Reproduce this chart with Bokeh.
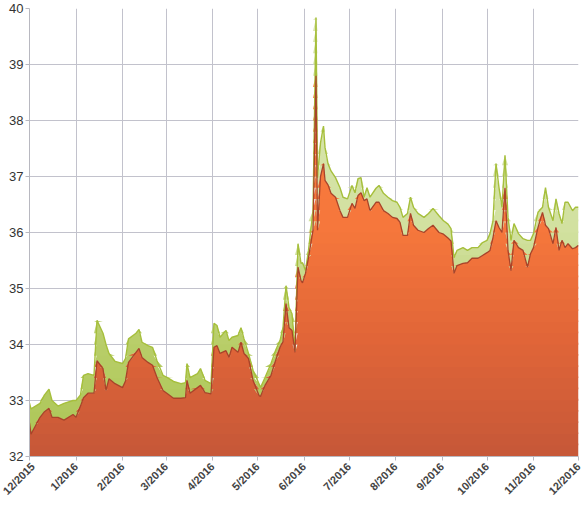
import numpy as np
import pandas as pd
from bokeh.plotting import figure
from bokeh.models import FixedTicker, CustomJSTickFormatter, Range1d
from bokeh.embed import file_html
from bokeh.resources import INLINE

START = "2015-12-01"
MONTH_TICKS = ["2015-12-01", "2016-01-01", "2016-02-01", "2016-03-01", "2016-04-01",
               "2016-05-01", "2016-06-01", "2016-07-01", "2016-08-01", "2016-09-01",
               "2016-10-01", "2016-11-01", "2016-12-01"]
Y_TICKS = [32, 33, 34, 35, 36, 37, 38, 39, 40]

DAYS = [0, 1, 4, 7, 10, 13, 15, 19, 23, 29,
        31, 34, 36, 39, 43, 45, 49, 51, 53, 57,
        62, 64, 66, 71, 73, 75, 79, 82, 85, 89,
        92, 96, 101, 104, 105, 107, 112, 114, 117, 121,
        123, 125, 127, 131, 133, 135, 139, 141, 143, 146,
        149, 153, 154, 157, 161, 164, 167, 169, 171, 173,
        175, 177, 179, 181, 182, 184, 186, 189, 191, 192,
        194, 196, 197, 199, 201, 204, 207, 209, 212, 215,
        217, 219, 221, 223, 225, 227, 231, 233, 236, 239,
        242, 245, 247, 249, 252, 254, 256, 259, 263, 266,
        269, 273, 276, 279, 281, 283, 285, 289, 292, 295,
        299, 302, 305, 307, 309, 311, 313, 315, 317, 319,
        321, 323, 326, 329, 332, 334, 336, 339, 342, 344,
        346, 349, 351, 353, 355, 357, 359, 362, 364, 366]

UPPER = [32.95, 32.85, 32.90, 32.95, 33.10, 33.20, 33.00, 32.90, 32.95, 33.00,
         33.00, 33.10, 33.45, 33.48, 33.45, 34.43, 34.20, 34.00, 33.84, 33.70,
         33.66, 33.75, 34.10, 34.20, 34.27, 34.04, 33.98, 33.95, 33.71, 33.45,
         33.41, 33.34, 33.30, 33.32, 33.66, 33.41, 33.48, 33.57, 33.36, 33.30,
         34.38, 34.34, 34.13, 34.25, 34.07, 34.13, 34.16, 34.30, 34.10, 33.84,
         33.54, 33.30, 33.23, 33.41, 33.66, 33.89, 34.07, 34.30, 35.05, 34.66,
         34.55, 33.89, 35.80, 35.45, 35.46, 35.32, 35.68, 36.39, 39.84, 36.98,
         37.60, 37.90, 37.52, 37.23, 37.10, 36.98, 36.80, 36.63, 36.60, 36.84,
         36.71, 36.96, 36.98, 36.63, 36.80, 36.63, 36.79, 36.84, 36.70, 36.63,
         36.57, 36.54, 36.45, 36.27, 36.34, 36.63, 36.45, 36.34, 36.27, 36.34,
         36.43, 36.30, 36.21, 36.15, 36.07, 35.55, 35.68, 35.73, 35.68, 35.73,
         35.73, 35.82, 35.86, 35.98, 36.21, 37.23, 36.80, 36.45, 37.38, 36.27,
         35.86, 36.16, 35.98, 35.89, 35.86, 35.86, 35.98, 36.36, 36.45, 36.80,
         36.45, 36.21, 36.60, 36.34, 36.16, 36.54, 36.54, 36.39, 36.45, 36.45]

LOWER = [32.60, 32.40, 32.55, 32.70, 32.80, 32.86, 32.70, 32.70, 32.65, 32.75,
         32.70, 32.90, 33.05, 33.13, 33.13, 33.71, 33.57, 33.18, 33.39, 33.30,
         33.23, 33.35, 33.68, 33.86, 33.93, 33.77, 33.68, 33.63, 33.41, 33.18,
         33.12, 33.04, 33.04, 33.05, 33.36, 33.13, 33.23, 33.27, 33.14, 33.12,
         33.95, 33.98, 33.84, 33.89, 33.77, 33.95, 33.86, 34.04, 33.84, 33.75,
         33.36, 33.09, 33.07, 33.27, 33.45, 33.71, 33.95, 34.05, 34.73, 34.30,
         34.25, 33.86, 35.38, 35.14, 35.10, 35.27, 35.55, 36.04, 38.80, 36.04,
         37.00, 37.23, 36.93, 36.85, 36.70, 36.63, 36.39, 36.27, 36.27, 36.52,
         36.43, 36.66, 36.71, 36.57, 36.60, 36.39, 36.54, 36.54, 36.39, 36.34,
         36.27, 36.25, 36.18, 35.95, 35.95, 36.34, 36.13, 36.04, 36.00, 36.07,
         36.13, 36.00, 35.97, 35.90, 35.85, 35.27, 35.41, 35.45, 35.46, 35.54,
         35.54, 35.59, 35.64, 35.68, 35.91, 36.21, 36.09, 36.00, 36.80, 35.68,
         35.32, 35.86, 35.73, 35.68, 35.38, 35.62, 35.73, 36.09, 36.36, 36.13,
         36.07, 35.80, 36.09, 35.68, 35.86, 35.73, 35.80, 35.71, 35.73, 35.77]

dates = pd.Timestamp(START) + pd.to_timedelta(DAYS, unit="D")
upper = np.array(UPPER)
lower = np.array(LOWER)

p = figure(x_axis_type="datetime", frame_width=549, frame_height=448,
           x_range=Range1d(pd.Timestamp(MONTH_TICKS[0]), pd.Timestamp(MONTH_TICKS[-1])),
           y_range=Range1d(Y_TICKS[0], Y_TICKS[-1]),
           output_backend="svg", toolbar_location=None,
           min_border_top=8, min_border_left=29, min_border_right=8, min_border_bottom=2)
p.outline_line_color = None
p.background_fill_color = "white"
p.border_fill_color = "white"


def lerp_color(stops, v):
    vals = [s[0] for s in stops]
    cols = np.array([s[1] for s in stops], dtype=float)
    r = np.interp(v, vals, cols[:, 0])
    g = np.interp(v, vals, cols[:, 1])
    b = np.interp(v, vals, cols[:, 2])
    return "#%02x%02x%02x" % (int(r), int(g), int(b))


orange_stops = [(32, (198, 88, 56)), (34, (224, 101, 56)), (36, (246, 119, 60)), (40, (252, 128, 64))]
green_stops = [(32, (172, 198, 86)), (34, (184, 206, 104)), (36, (210, 225, 160)), (40, (220, 232, 180))]

edges = np.arange(32.0, 40.01, 0.2)
eps = 0.03
for k in range(len(edges) - 1):
    lo, hi = edges[k], edges[k + 1]
    mid = (lo + hi) / 2
    y1 = np.clip(lower, lo, hi + eps)
    y2 = np.clip(upper, lo, hi + eps)
    if np.any(y2 > y1):
        p.varea(x=dates, y1=y1, y2=y2, fill_color=lerp_color(green_stops, mid), fill_alpha=1.0)
for k in range(len(edges) - 1):
    lo, hi = edges[k], edges[k + 1]
    mid = (lo + hi) / 2
    y2 = np.clip(lower, lo, hi + eps)
    if np.any(y2 > lo):
        p.varea(x=dates, y1=np.full(len(dates), lo), y2=y2,
                fill_color=lerp_color(orange_stops, mid), fill_alpha=1.0)

p.line(dates, upper, line_color="#a6bf3c", line_width=1.4)
p.line(dates, lower, line_color="#a8442a", line_width=1.3)

xt = FixedTicker(ticks=[pd.Timestamp(m).value / 1e6 for m in MONTH_TICKS])
p.xaxis.ticker = xt
p.xgrid.ticker = xt
p.xaxis.formatter = CustomJSTickFormatter(
    code="const d = new Date(tick); return (d.getUTCMonth() + 1) + '/' + d.getUTCFullYear();")
p.yaxis.ticker = FixedTicker(ticks=Y_TICKS)
p.ygrid.ticker = FixedTicker(ticks=Y_TICKS)

for g in (p.xgrid, p.ygrid):
    g.grid_line_color = "#c2c2cc"
    g.grid_line_width = 1

for ax in (p.xaxis, p.yaxis):
    ax.axis_line_color = "#b8b8c0"
    ax.major_tick_line_color = "#b8b8c0"
    ax.major_tick_out = 4
    ax.major_tick_in = 0
    ax.minor_tick_line_color = None
    ax.major_label_text_color = "#333333"

p.yaxis.major_label_text_font = "Liberation Sans"
p.yaxis.major_label_text_font_size = "13px"
p.yaxis.major_label_standoff = 2
p.xaxis.major_label_text_font = "Liberation Sans"
p.xaxis.major_label_text_font_size = "11px"
p.xaxis.major_label_text_font_style = "bold"
p.xaxis.major_label_text_color = "#444444"
p.xaxis.major_label_orientation = np.pi / 4
p.xaxis.major_label_standoff = 4

open("out.html", "w").write(file_html(p, INLINE))
